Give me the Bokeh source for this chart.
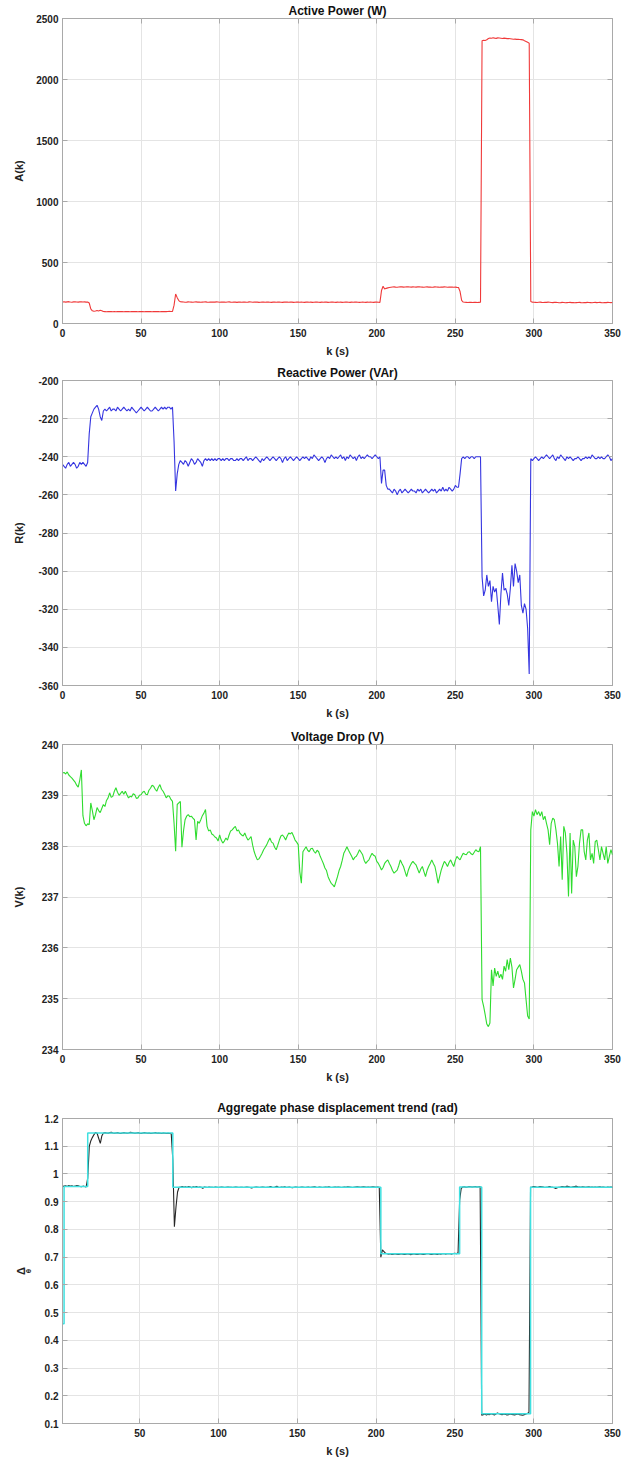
from bokeh.embed import file_html
from bokeh.layouts import column
from bokeh.models import (CustomJSTickFormatter, FixedTicker, LinearAxis,
                          Range1d, Title)
from bokeh.plotting import figure
from bokeh.resources import INLINE

# ---------------------------------------------------------------------------
# Measurements, one sample per second
# ---------------------------------------------------------------------------
k_ticks = [0, 50, 100, 150, 200, 250, 300, 350]

# Active power A(k) [W], k = 0..350
active_power = [
    # k 0-16
    176, 178, 175, 177, 179, 176, 174, 177, 178, 176, 175, 177, 178, 176, 177, 175, 176,
    # k 17-25
    168, 120, 104, 100, 102, 106, 103, 108, 104,
    # k 26-70
    98, 97, 96, 97, 98, 97, 96, 97, 96, 97, 98, 97, 97, 96, 97, 98, 97, 96, 97, 97,
    98, 97, 96, 97, 98, 97, 96, 97, 97, 98, 97, 96, 97, 98, 97, 97, 96, 97, 98, 97,
    97, 98, 99, 98, 99,
    # k 71-75
    150, 242, 212, 188, 178,
    # k 76-202
    177, 176, 174, 175, 177, 176, 175, 174, 176, 177, 175, 176, 174, 175, 176, 177, 175, 174, 176, 175,
    176, 175, 177, 176, 174, 175, 176, 175, 174, 176, 177, 175, 174, 176, 175, 173, 175, 176, 174, 175,
    176, 174, 175, 177, 176, 174, 175, 176, 175, 173, 174, 176, 175, 174, 176, 175, 174, 173, 175, 176,
    174, 175, 176, 174, 173, 175, 176, 175, 174, 176, 175, 173, 174, 175, 176, 174, 175, 174, 173, 175,
    176, 174, 175, 173, 174, 176, 175, 174, 173, 175, 174, 176, 175, 173, 174, 175, 176, 174, 173, 175,
    174, 175, 173, 174, 176, 175, 174, 173, 175, 174, 175, 176, 174, 173, 174, 175, 174, 173, 175, 174,
    175, 174, 173, 175, 176, 174, 173,
    # k 203-208
    270, 305, 282, 288, 292, 295,
    # k 209-252
    297, 299, 300, 298, 297, 299, 301, 300, 298, 299, 300, 301, 299, 298, 300, 299, 298, 300, 301, 299,
    298, 297, 299, 300, 298, 299, 297, 298, 300, 299, 298, 297, 299, 298, 300, 299, 297, 298, 299, 298,
    297, 298, 296, 295,
    # k 253-266
    262, 190, 176, 174, 173, 172, 174, 173, 172, 173, 174, 172, 173, 174,
    # k 267-270
    2318, 2322, 2320, 2325,
    # k 271-285
    2336, 2340, 2338, 2342, 2339, 2337, 2341, 2340, 2338, 2336, 2339, 2337, 2335, 2336, 2334,
    # k 286-297
    2332, 2330, 2331, 2329, 2330, 2328, 2327, 2325, 2318, 2312, 2305, 2298,
    # k 298-350
    180,
    175, 174, 173, 172, 174, 175, 173, 172, 174, 173, 175, 174, 172, 171, 173, 174, 172, 170, 171, 173,
    172, 170, 171, 172, 173, 171, 172, 170, 171, 172, 173, 171, 170, 172, 171, 173, 172, 171, 170, 172,
    173, 171, 172, 173, 171, 170, 172, 171, 173, 172, 171, 172,
]

# Reactive power R(k) [VAr], k = 0..350
reactive_power = [
    # k 0-16
    -244, -245, -246, -244, -243, -245, -244, -243, -244, -246, -245, -243, -244, -243, -244, -245, -243,
    # k 17-27
    -228, -219, -217, -215, -214, -213, -215, -219, -221, -216, -215,
    # k 28-70
    -216, -215, -214, -216, -215, -215, -216, -214, -215, -216, -215, -214, -215, -216, -215, -216, -214, -215, -216, -217,
    -216, -215, -214, -215, -216, -215, -214, -215, -216, -216, -215, -214, -215, -216, -215, -214, -215, -214, -215, -214,
    -214, -215, -214,
    # k 71-75
    -232, -258, -249, -244, -242,
    # k 76-202
    -243, -244, -242, -243, -245, -243, -241, -242, -244, -243, -241, -242, -243, -245, -242, -241, -242, -241, -242, -241,
    -242, -241, -242, -241, -241, -242, -241, -242, -241, -241, -242, -241, -241, -242, -242, -241, -242, -241, -241, -242,
    -241, -240, -242, -241, -241, -242, -241, -240, -241, -242, -243, -241, -242, -241, -240, -241, -242, -241, -240, -241,
    -242, -241, -240, -241, -243, -241, -240, -242, -241, -240, -241, -242, -241, -240, -241, -242, -241, -240, -241, -240,
    -241, -242, -240, -241, -239, -240, -241, -242, -241, -240, -241, -243, -241, -240, -241, -239, -240, -241, -240, -241,
    -240, -239, -241, -240, -242, -240, -241, -239, -240, -241, -240, -242, -240, -239, -241, -240, -241, -240, -239, -240,
    -240, -241, -240, -239, -240, -241, -240,
    # k 203-207
    -254, -247, -247, -255, -257,
    # k 208-251
    -257, -258, -259, -257, -258, -260, -258, -257, -259, -258, -257, -258, -259, -258, -257, -258, -258, -259, -257, -258,
    -257, -259, -258, -257, -258, -259, -258, -257, -258, -257, -259, -258, -257, -258, -256, -258, -257, -258, -256, -257,
    -258, -257, -255, -256,
    # k 252-266
    -256, -249, -241, -240, -241, -240, -240, -241, -240, -240, -241, -240, -240, -240, -240,
    # k 267-297
    -303, -313, -310, -302, -308, -305, -316, -308, -311, -309, -318, -328, -312, -301, -310, -309,
    -312, -318, -309, -297, -308, -296, -300, -306, -302, -318, -322, -317, -320, -330, -354,
    # k 298-350
    -241,
    -242, -241, -240, -241, -242, -241, -240, -241, -240, -239, -240, -241, -240, -239, -241, -242, -240, -241, -239, -240,
    -241, -242, -240, -241, -240, -241, -242, -241, -241, -240, -241, -242, -241, -241, -240, -241, -240, -241, -239, -240,
    -241, -241, -240, -241, -240, -241, -241, -240, -239, -240, -242, -241,
]

# Voltage V(k) [V], k = 0..350
voltage = [
    # k 0-19
    239.44, 239.45, 239.42, 239.46, 239.40, 239.37, 239.34, 239.30, 239.26, 239.20,
    239.16, 239.30, 239.50, 238.60, 238.45, 238.40, 238.44, 238.42, 238.85, 238.70,
    # k 20-39
    238.52, 238.62, 238.76, 238.70, 238.66, 238.74, 238.82, 238.78, 238.90, 238.95,
    239.05, 238.96, 238.98, 239.08, 239.15, 239.06, 239.00, 239.04, 239.08, 239.02,
    # k 40-59
    239.08, 239.01, 238.95, 238.98, 238.97, 239.03, 239.01, 238.94, 238.95, 239.00,
    239.01, 239.06, 239.08, 239.02, 239.01, 239.10, 239.14, 239.20, 239.18, 239.12,
    # k 60-79
    239.08, 239.16, 239.21, 239.12, 239.08, 239.02, 238.95, 238.99, 238.98, 238.92,
    238.88, 238.45, 237.90, 238.82, 238.85, 238.88, 237.98, 238.30, 238.52, 238.59,
    # k 80-99
    238.62, 238.58, 238.59, 238.55, 238.52, 238.12, 238.49, 238.45, 238.52, 238.60,
    238.65, 238.72, 238.39, 238.30, 238.32, 238.24, 238.22, 238.18, 238.16, 238.10,
    # k 100-119
    238.22, 238.12, 238.06, 238.10, 238.16, 238.12, 238.22, 238.30, 238.32, 238.36,
    238.39, 238.30, 238.32, 238.25, 238.22, 238.20, 238.26, 238.18, 238.12, 238.15,
    # k 120-139
    238.19, 238.02, 237.89, 237.80, 237.73, 237.75, 237.80, 237.86, 237.93, 237.98,
    238.03, 238.10, 238.16, 238.08, 238.06, 237.98, 237.93, 238.02, 238.12, 238.20,
    # k 140-159
    238.22, 238.18, 238.12, 238.20, 238.26, 238.24, 238.27, 238.20, 238.12, 238.08,
    238.03, 237.50, 237.27, 237.89, 237.94, 237.99, 237.92, 237.89, 237.95, 237.96,
    # k 160-179
    237.90, 237.86, 237.92, 237.89, 237.80, 237.73, 237.66, 237.57, 237.52, 237.40,
    237.33, 237.27, 237.24, 237.20, 237.30, 237.40, 237.52, 237.60, 237.72, 237.86,
    # k 180-199
    237.92, 237.99, 237.92, 237.86, 237.80, 237.73, 237.78, 237.80, 237.86, 237.93,
    237.88, 237.83, 237.72, 237.66, 237.70, 237.73, 237.80, 237.86, 237.82, 237.80,
    # k 200-219
    237.70, 237.66, 237.60, 237.53, 237.58, 237.66, 237.70, 237.73, 237.66, 237.60,
    237.52, 237.47, 237.50, 237.53, 237.62, 237.73, 237.66, 237.60, 237.50, 237.40,
    # k 220-239
    237.52, 237.60, 237.66, 237.70, 237.66, 237.63, 237.55, 237.47, 237.55, 237.60,
    237.50, 237.40, 237.52, 237.60, 237.66, 237.73, 237.66, 237.60, 237.45, 237.27,
    # k 240-259
    237.40, 237.53, 237.62, 237.70, 237.66, 237.60, 237.68, 237.73, 237.66, 237.60,
    237.72, 237.80, 237.76, 237.73, 237.80, 237.86, 237.84, 237.83, 237.88, 237.89,
    # k 260-279
    237.85, 237.83, 237.88, 237.93, 237.90, 237.89, 237.99, 234.98, 234.85, 234.68,
    234.50, 234.45, 234.52, 235.57, 235.25, 235.60, 235.44, 235.54, 235.41, 235.48,
    # k 280-299
    235.38, 235.64, 235.54, 235.77, 235.57, 235.80, 235.62, 235.21, 235.38, 235.57,
    235.62, 235.67, 235.54, 235.38, 235.31, 234.98, 234.66, 234.60, 238.32, 238.68,
    # k 300-319
    238.59, 238.72, 238.62, 238.68, 238.59, 238.68, 238.52, 238.59, 238.45, 238.32,
    238.03, 238.45, 238.55, 238.52, 238.32, 238.05, 237.60, 238.19, 237.34, 238.39,
    # k 320-339
    238.26, 237.86, 237.01, 238.26, 237.07, 238.12, 237.99, 237.40, 237.60, 238.06,
    238.32, 238.32, 237.89, 237.73, 238.12, 238.26, 237.73, 237.86, 237.66, 238.09,
    # k 340-350
    238.12, 237.93, 237.73, 237.99, 237.86, 237.73, 237.99, 237.66, 237.80, 237.93,
    237.83,
]

# Measured aggregate phase displacement [rad], k = 1..350
phase_measured = [
    # k 1-16
    0.955, 0.956, 0.957, 0.955, 0.958, 0.956, 0.957, 0.955, 0.956, 0.958, 0.957, 0.955, 0.954, 0.956, 0.955, 0.953,
    # k 17-27
    0.985, 1.100, 1.120, 1.132, 1.142, 1.150, 1.146, 1.128, 1.110, 1.138, 1.148,
    # k 28-70
    1.149, 1.148, 1.147, 1.149, 1.150, 1.148, 1.147, 1.148, 1.149, 1.147, 1.146, 1.148, 1.149, 1.148, 1.147, 1.148, 1.150, 1.149, 1.148, 1.147,
    1.148, 1.149, 1.147, 1.146, 1.148, 1.149, 1.148, 1.147, 1.148, 1.146, 1.147, 1.148, 1.149, 1.147, 1.148, 1.147, 1.146, 1.148, 1.147, 1.146,
    1.147, 1.146, 1.145,
    # k 71-75
    1.050, 0.810, 0.880, 0.935, 0.952,
    # k 76-202
    0.953, 0.955, 0.952, 0.954, 0.951, 0.955, 0.953, 0.950, 0.954, 0.952, 0.955, 0.951, 0.953, 0.952, 0.948, 0.953, 0.952, 0.951, 0.953, 0.952,
    0.952, 0.951, 0.953, 0.952, 0.951, 0.952, 0.953, 0.952, 0.951, 0.952, 0.953, 0.952, 0.952, 0.951, 0.952, 0.953, 0.952, 0.951, 0.952, 0.952,
    0.951, 0.952, 0.953, 0.952, 0.951, 0.949, 0.951, 0.952, 0.953, 0.952, 0.951, 0.952, 0.953, 0.952, 0.951, 0.952, 0.953, 0.955, 0.952, 0.951,
    0.953, 0.956, 0.952, 0.951, 0.953, 0.952, 0.954, 0.951, 0.952, 0.953, 0.951, 0.950, 0.952, 0.953, 0.952, 0.951, 0.952, 0.953, 0.952, 0.951,
    0.952, 0.953, 0.951, 0.952, 0.953, 0.954, 0.952, 0.951, 0.953, 0.952, 0.951, 0.952, 0.953, 0.952, 0.954, 0.952, 0.951, 0.952, 0.953, 0.952,
    0.953, 0.952, 0.951, 0.952, 0.953, 0.952, 0.954, 0.953, 0.952, 0.951, 0.952, 0.953, 0.954, 0.953, 0.952, 0.953, 0.954, 0.953, 0.952, 0.953,
    0.952, 0.953, 0.954, 0.953, 0.952, 0.953, 0.952,
    # k 203-205
    0.700, 0.726, 0.720,
    # k 206-251
    0.714, 0.712, 0.711, 0.712, 0.710, 0.711, 0.712, 0.711, 0.710, 0.711, 0.712, 0.711, 0.710, 0.711, 0.712, 0.711, 0.709, 0.711, 0.712, 0.711,
    0.710, 0.711, 0.712, 0.711, 0.710, 0.711, 0.712, 0.713, 0.711, 0.710, 0.711, 0.712, 0.711, 0.710, 0.712, 0.711, 0.712, 0.713, 0.711, 0.712,
    0.713, 0.712, 0.711, 0.713, 0.714, 0.712,
    # k 252-254
    0.716, 0.905, 0.948,
    # k 255-266
    0.953, 0.954, 0.952, 0.953, 0.955, 0.954, 0.953, 0.954, 0.955, 0.953, 0.954, 0.955,
    # k 267-297
    0.130,
    0.132, 0.134, 0.131, 0.133, 0.132, 0.135, 0.133, 0.131, 0.134, 0.138, 0.135, 0.133, 0.132, 0.134, 0.133, 0.131, 0.132, 0.134, 0.133, 0.132,
    0.131, 0.133, 0.134, 0.132, 0.131, 0.130, 0.132, 0.134, 0.136,
    0.140,
    # k 298-350
    0.952,
    0.953, 0.955, 0.954, 0.952, 0.953, 0.955, 0.954, 0.953, 0.951, 0.952, 0.953, 0.955, 0.953, 0.952, 0.950, 0.948, 0.950, 0.952, 0.953, 0.955,
    0.954, 0.953, 0.956, 0.955, 0.953, 0.952, 0.954, 0.955, 0.956, 0.954, 0.953, 0.952, 0.954, 0.953, 0.952, 0.953, 0.954, 0.952, 0.953, 0.952,
    0.953, 0.952, 0.953, 0.954, 0.952, 0.953, 0.952, 0.951, 0.953, 0.952, 0.953, 0.952,
]

# Piecewise-constant trend of the phase displacement (start of each level)
trend_k = [1, 2, 17, 71, 203, 253, 267, 298, 350]
trend_level = [0.46, 0.955, 1.148, 0.952, 0.712, 0.953, 0.135, 0.952, 0.952]

k = list(range(0, 351))
k_phase = list(range(1, 351))

assert len(active_power) == len(k), len(active_power)
assert len(reactive_power) == len(k), len(reactive_power)
assert len(voltage) == len(k), len(voltage)
assert len(phase_measured) == len(k_phase), len(phase_measured)

# ---------------------------------------------------------------------------
# Styling helpers
# ---------------------------------------------------------------------------
FONT = "Liberation Sans"
BOX = "#a9a9a9"
TEXT = "#222222"


def empty_labels():
    return CustomJSTickFormatter(code="return ''")


def plain_labels():
    # plain JS number formatting: ASCII minus, "1" instead of "1.0"
    return CustomJSTickFormatter(
        code="return String(Math.round(tick * 10) / 10)")


def make_panel(title, ylabel, y_range, y_ticks, x_range, x_ticks,
               border_top, border_bottom, ylabel_standoff, title_standoff):
    p = figure(frame_width=550, frame_height=305,
               min_border_left=62, min_border_right=26,
               min_border_top=border_top, min_border_bottom=border_bottom,
               x_range=Range1d(*x_range), y_range=Range1d(*y_range),
               output_backend="svg", toolbar_location=None,
               background_fill_color="white", border_fill_color="white",
               outline_line_color=BOX, outline_line_width=1)

    p.title.text = title
    p.title.align = "center"
    p.title.text_font = FONT
    p.title.text_font_size = "12px"
    p.title.text_font_style = "bold"
    p.title.text_color = "#111111"
    p.title.standoff = title_standoff

    xt = FixedTicker(ticks=x_ticks)
    yt = FixedTicker(ticks=y_ticks)
    p.xaxis.ticker = xt
    p.yaxis.ticker = yt
    p.xgrid.ticker = xt
    p.ygrid.ticker = yt
    p.yaxis.formatter = plain_labels()

    for ax in (p.xaxis[0], p.yaxis[0]):
        ax.major_tick_in = 5
        ax.major_tick_out = 0
        ax.minor_tick_in = 0
        ax.minor_tick_out = 0
        ax.axis_line_color = BOX
        ax.major_tick_line_color = BOX
        ax.major_label_text_font = FONT
        ax.major_label_text_font_size = "10px"
        ax.major_label_text_font_style = "bold"
        ax.major_label_text_color = TEXT
        ax.axis_label_text_font = FONT
        ax.axis_label_text_font_size = "11px"
        ax.axis_label_text_font_style = "bold"
        ax.axis_label_text_color = TEXT

    p.xaxis.axis_label = "k (s)"
    p.xaxis.major_label_standoff = 5
    p.xaxis.axis_label_standoff = 5
    p.yaxis.major_label_standoff = 4
    p.yaxis.axis_label_standoff = ylabel_standoff
    if ylabel:
        p.yaxis.axis_label = ylabel

    # inward ticks on the top and right edges of the box
    top = LinearAxis(ticker=xt, formatter=empty_labels(),
                     major_tick_in=5, major_tick_out=0,
                     minor_tick_in=0, minor_tick_out=0,
                     major_label_standoff=0, axis_line_color=None,
                     major_tick_line_color=BOX)
    right = LinearAxis(ticker=yt, formatter=empty_labels(),
                       major_tick_in=5, major_tick_out=0,
                       minor_tick_in=0, minor_tick_out=0,
                       major_label_standoff=0, axis_line_color=None,
                       major_tick_line_color=BOX)
    p.add_layout(top, "above")
    p.add_layout(right, "right")

    for g in (p.xgrid[0], p.ygrid[0]):
        g.grid_line_color = "#e4e4e4"
        g.grid_line_width = 1
    return p


p1 = make_panel("Active Power (W)", "A(k)", (0, 2500),
                [0, 500, 1000, 1500, 2000, 2500], (0, 350), k_ticks,
                18, 38, 8, 1)
p1.line(k, active_power, line_color="#f03a3a", line_width=1.1)

p2 = make_panel("Reactive Power (VAr)", "R(k)", (-360, -200),
                [-360, -340, -320, -300, -280, -260, -240, -220, -200],
                (0, 350), k_ticks, 19, 40, 10, 2)
p2.line(k, reactive_power, line_color="#3535e0", line_width=1.1)

p3 = make_panel("Voltage Drop (V)", "V(k)", (234, 240),
                [234, 235, 236, 237, 238, 239, 240],
                (0, 350), k_ticks, 19, 44, 14, 1)
p3.line(k, voltage, line_color="#2fdc2f", line_width=1.1)

p4 = make_panel("Aggregate phase displacement trend (rad)", None, (0.1, 1.2),
                [0.1, 0.2, 0.3, 0.4, 0.5, 0.6, 0.7, 0.8, 0.9, 1.0, 1.1, 1.2],
                (1, 350), k_ticks, 25, 37, 14, 7)
p4.line(k_phase, phase_measured, line_color="#262626", line_width=1.1)
p4.step(trend_k, trend_level, mode="after", line_color="#3fe0e0", line_width=1.5)

# y label Δθ: theta as a small, raised subscript next to the Delta
p4.add_layout(Title(text="θ", align="center", offset=-7, standoff=17,
                    text_font=FONT, text_font_size="8px",
                    text_font_style="bold", text_color=TEXT,
                    text_line_height=0.6), "left")
p4.add_layout(Title(text="Δ", align="center", offset=17, standoff=-26,
                    text_font=FONT, text_font_size="11px",
                    text_font_style="bold", text_color=TEXT,
                    text_line_height=0.6), "left")

layout = column(p1, p2, p3, p4, spacing=0)

with open("out.html", "w") as f:
    f.write(file_html(layout, INLINE))
